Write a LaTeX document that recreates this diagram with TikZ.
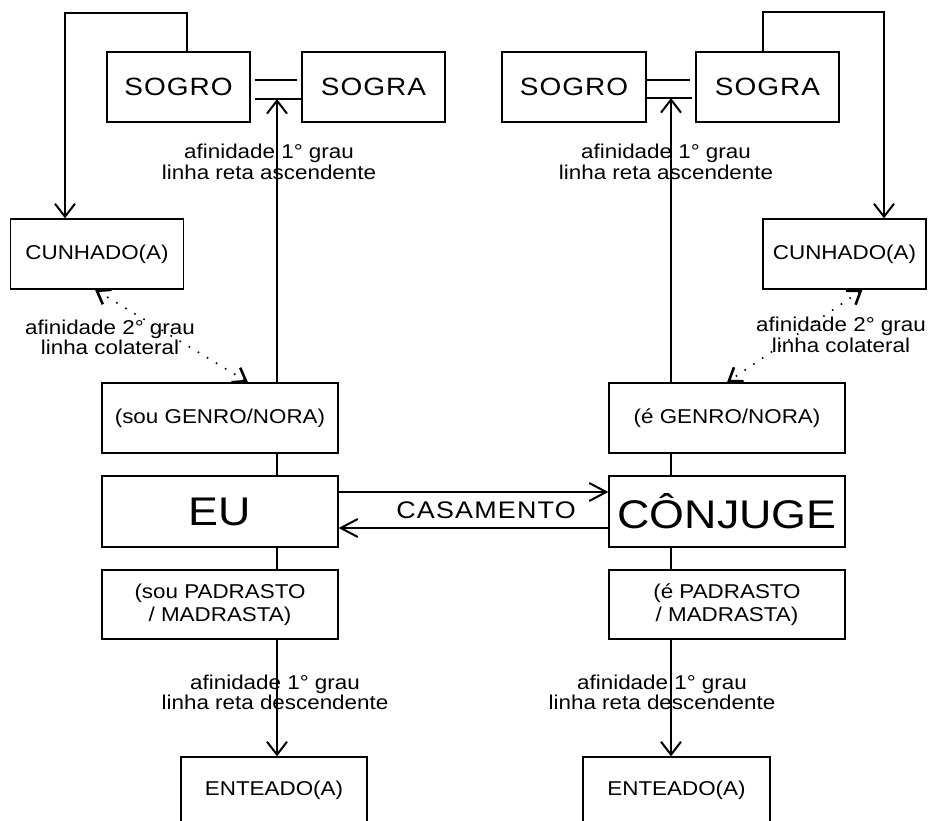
\documentclass[tikz,border=0pt]{standalone}
\usepackage{fontspec}
\setmainfont{Liberation Sans}[FakeStretch=1.12]
\usetikzlibrary{arrows.meta,calc}
\begin{document}
\begin{tikzpicture}[x=1pt,y=-1pt,
  box/.style={draw, line width=1.3pt, inner sep=0pt, align=center,
    font=\fontsize{20}{23}\selectfont},
  big/.style={font=\fontsize{25}{25}\selectfont\addfontfeatures{LetterSpace=4}},
  cas/.style={font=\fontsize{24}{24}\selectfont\addfontfeatures{LetterSpace=5}},
  huge/.style={font=\fontsize{40}{40}\selectfont},
  lbl/.style={align=center, inner sep=0pt, font=\fontsize{20}{20.5}\selectfont},
  conn/.style={line width=1.3pt},
  tip/.style={-{Straight Barb[length=13pt,width=20pt,line width=2pt]}},
  tipm/.style={-{Straight Barb[length=17pt,width=18pt,line width=2pt]}},
  dots/.style={line width=1.6pt, dash pattern=on 1.6pt off 9pt,
    {Straight Barb[length=12pt,width=17pt,line width=2.6pt]}-{Straight Barb[length=12pt,width=17pt,line width=2.6pt]}}
]
\useasboundingbox (0,0) rectangle (928,821);
\clip (0,0) rectangle (928,821);

% top boxes
\node[box,big,minimum width=143pt,minimum height=70pt] (sogroL) at (178.5,87) {SOGRO};
\node[box,big,minimum width=143pt,minimum height=70pt] (sograL) at (373.5,87) {SOGRA};
\node[box,big,minimum width=144pt,minimum height=70pt] (sogroR) at (574,87) {SOGRO};
\node[box,big,minimum width=143pt,minimum height=70pt] (sograR) at (767.5,87) {SOGRA};

% cunhados
\node[box,minimum width=173pt,minimum height=70pt] (cunL) at (97,254) {CUNHADO(A)};
\node[box,minimum width=163pt,minimum height=70pt] (cunR) at (844.5,254) {CUNHADO(A)};

% genro / nora
\node[box,minimum width=236pt,minimum height=70pt] (genL) at (220,418) {(sou GENRO/NORA)};
\node[box,minimum width=236pt,minimum height=70pt] (genR) at (727,418) {(é GENRO/NORA)};

% eu / conjuge
\node[box,huge,minimum width=236pt,minimum height=71pt] (eu) at (220,511.5) {EU};
\node[box,huge,minimum width=236pt,minimum height=71pt] (conj) at (727,511.5) {CÔNJUGE};

% padrasto
\node[box,minimum width=236pt,minimum height=69pt] (padL) at (220,604.5) {(sou PADRASTO\\/ MADRASTA)};
\node[box,minimum width=236pt,minimum height=69pt] (padR) at (727,604.5) {(é PADRASTO\\/ MADRASTA)};

% enteados
\node[box,minimum width=186pt,minimum height=66pt] (entL) at (274,790) {ENTEADO(A)};
\node[box,minimum width=187pt,minimum height=66pt] (entR) at (676.5,790) {ENTEADO(A)};

% vertical axis coordinates
\coordinate (xL) at (277,0);
\coordinate (xR) at (671,0);

% double lines between sogro and sogra
\draw[conn] ($(sogroL.east)+(4,-7)$) -- ($(sograL.west)+(-4,-7)$);
\draw[conn] ($(sogroL.east)+(4,12)$) coordinate (pL) -- ($(sograL.west)+(0,12)$);
\draw[conn] ($(sogroR.east)+(0,-7)$) -- ($(sograR.west)+(-5,-7)$);
\draw[conn] ($(sogroR.east)+(0,11)$) coordinate (pR) -- ($(sograR.west)+(-3,11)$);

% arrows up to parents
\draw[conn,tip] (genL.north -| xL) -- (pL -| xL);
\draw[conn,tip] (genR.north -| xR) -- (pR -| xR);

% loops to cunhados
\coordinate (loopL) at (65,13);
\coordinate (loopR) at (884,12);
\draw[conn,tip] ($(sogroL.north)+(8.5,0)$) |- (loopL) -- (cunL.north -| loopL);
\draw[conn,tip] ($(sograR.north)+(-4.5,0)$) |- (loopR) -- (cunR.north -| loopR);

% dotted collateral
\draw[dots] ($(cunL.south)+(-2,0)$) -- ($(genL.north)+(28,0)$);
\draw[dots] ($(cunR.south)+(18,0)$) -- (genR.north);

% genro to eu, eu to padrasto
\draw[conn] (genL.south -| xL) -- (eu.north -| xL);
\draw[conn] (eu.south -| xL) -- (padL.north -| xL);
\draw[conn] (genR.south -| xR) -- (conj.north -| xR);
\draw[conn] (conj.south -| xR) -- (padR.north -| xR);

% padrasto to enteado
\draw[conn,tip] (padL.south -| xL) -- (entL.north -| xL);
\draw[conn,tip] (padR.south -| xR) -- (entR.north -| xR);

% casamento
\draw[conn,tipm] ($(eu.east)+(0,-19.5)$) -- ($(conj.west)+(0,-19.5)$);
\draw[conn,tipm] ($(conj.west)+(0,16.5)$) -- ($(eu.east)+(0,16.5)$);
\node[cas,inner sep=0pt] (casam) at (486,510) {CASAMENTO};

% labels
\node[lbl] (lab1) at (269,162) {afinidade 1° grau\\linha reta ascendente};
\node[lbl] (lab2) at (666,162) {afinidade 1° grau\\linha reta ascendente};
\node[lbl] (lab3) at (110,337.5) {afinidade 2° grau\\linha colateral};
\node[lbl] (lab4) at (841,335) {afinidade 2° grau\\linha colateral};
\node[lbl] (lab5) at (275,692.5) {afinidade 1° grau\\linha reta descendente};
\node[lbl] (lab6) at (662,692.5) {afinidade 1° grau\\linha reta descendente};
\end{tikzpicture}
\end{document}
